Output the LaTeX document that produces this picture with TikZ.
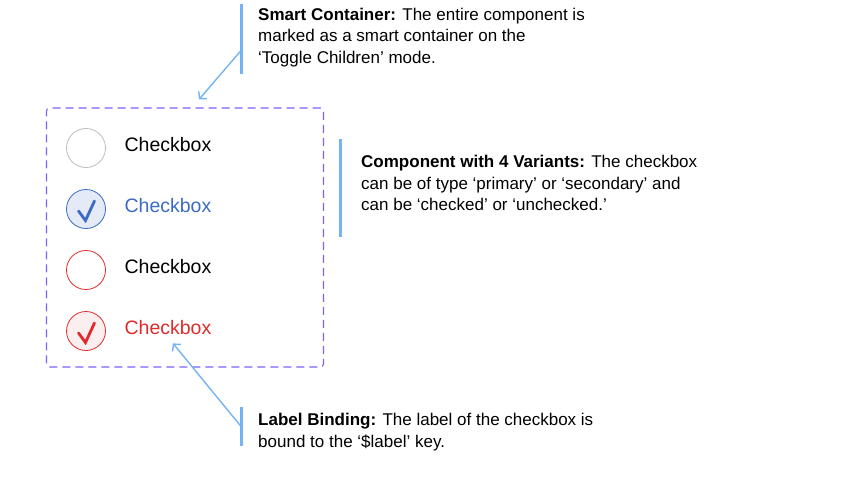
\documentclass[tikz,border=0pt]{standalone}
\usepackage{fontspec}
\setmainfont{Liberation Sans}
\usepackage{xcolor}
\usetikzlibrary{positioning, arrows.meta, calc}

\definecolor{boxviolet}{HTML}{7B61FF}
\definecolor{notecol}{HTML}{74B4F4}
\definecolor{cgray}{HTML}{BDBDBD}
\definecolor{cblue}{HTML}{3B6BC3}
\definecolor{cbluefill}{HTML}{E4EAF6}
\definecolor{cred}{HTML}{E02B2B}
\definecolor{credfill}{HTML}{FBEEEE}

\begin{document}
\begin{tikzpicture}[
        x=1pt, y=-1pt,
        container/.style={draw=boxviolet, dash pattern=on 8pt off 5pt, line width=1.1pt, rounded corners=3pt, minimum width=277pt, minimum height=259pt, inner sep=0pt},
        chk/.style={circle, minimum size=39pt, inner sep=0pt, line width=0.8pt},
        lbl/.style={inner sep=0pt, font=\fontsize{19.5}{23}\selectfont},
        tick/.style={line width=2.8pt, line cap=round, line join=miter},
        bar/.style={fill=notecol, minimum width=3pt, inner sep=0pt},
        note/.style={anchor=base west, inner sep=0pt, align=left, font=\fontsize{17}{21.7}\selectfont},
        arr/.style={-{Straight Barb[length=5pt, width=11pt]}, draw=notecol, line width=1.4pt}
    ]
    \useasboundingbox (0,0) rectangle (844,479);

    % Smart container
    \node[container] (box) at (185,237.5) {};

    % Checkboxes
    \node[chk, draw=cgray, fill=white] (c1) at (86,148) {};
    \node[chk, draw=cblue, fill=cbluefill] (c2) at (86,209) {};
    \node[chk, draw=cred, fill=white] (c3) at (86,270) {};
    \node[chk, draw=cred, fill=credfill] (c4) at (86,331) {};

    \draw[tick, cblue] ($(c2)+(-7.5,2)$) -- ($(c2)+(-0.5,11.5)$) -- ($(c2)+(8.5,-8)$);
    \draw[tick, cred] ($(c4)+(-7.5,2)$) -- ($(c4)+(-0.5,11.5)$) -- ($(c4)+(8.5,-8)$);

    \node[lbl, right=18.5pt of c1, yshift=3pt] (l1) {Checkbox};
    \node[lbl, right=18.5pt of c2, yshift=3pt, text=cblue] (l2) {Checkbox};
    \node[lbl, right=18.5pt of c3, yshift=3pt] (l3) {Checkbox};
    \node[lbl, right=18.5pt of c4, yshift=3pt, text=cred] (l4) {Checkbox};

    % Notes (anchored at the baseline of the last line)
    \node[bar, minimum height=70pt] (bar1) at (241.5,39) {};
    \node[note] (n1) at (258,63.4) {\textbf{Smart Container:} The entire component is\\marked as a smart container on the\\‘Toggle Children’ mode.};

    \node[bar, minimum height=98pt] (bar2) at (340.5,188) {};
    \node[note] (n2) at (361,210.7) {\textbf{Component with 4 Variants:} The checkbox\\can be of type ‘primary’ or ‘secondary’ and\\can be ‘checked’ or ‘unchecked.’};

    \node[bar, minimum height=39pt] (bar3) at (241.5,426) {};
    \node[note] (n3) at (258,447.2) {\textbf{Label Binding:} The label of the checkbox is\\bound to the ‘\$label’ key.};

    % Pointers
    \coordinate (p1) at ([shift={(14pt,8pt)}]box.north);
    \coordinate (p3) at ([shift={(5pt,-8pt)}]l4.south);
    \draw[arr] ([yshift=-11pt]bar1.center) -- (p1);
    \draw[arr] ([yshift=-1pt]bar3.center) -- (p3);

\end{tikzpicture}
\end{document}
